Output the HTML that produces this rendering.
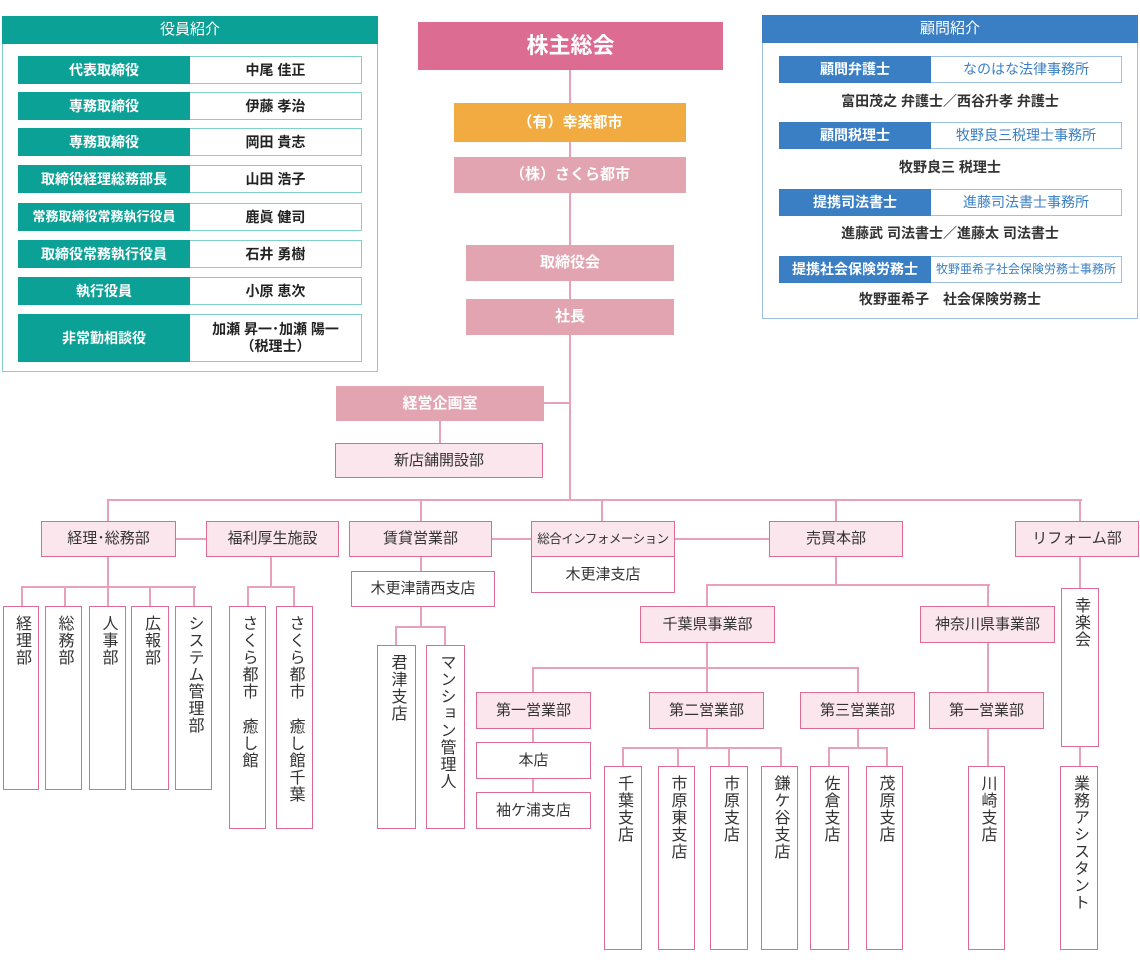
<!DOCTYPE html>
<html><head><meta charset="utf-8"><style>
body{margin:0;width:1140px;height:966px;position:relative;background:#fff;font-family:"Liberation Sans","Noto Sans CJK JP",sans-serif;color:#333;overflow:hidden}
div{position:absolute;box-sizing:border-box}
.b{display:flex;align-items:center;justify-content:center;text-align:center;font-size:15px;line-height:1.2;white-space:nowrap}
.p{border:1.5px solid #dc6c92;background:#fbe6ee}
.w{border:1.5px solid #dc6c92;background:#fff}
.s{background:#e1a4b0;color:#fff;font-size:15px;font-weight:bold}
.v{border:1.5px solid #dc6c92;background:#fff;writing-mode:vertical-rl;text-orientation:upright;font-size:16px;line-height:1;display:flex;justify-content:flex-start;align-items:center;padding-top:8px;letter-spacing:1px}
.h{height:2px;background:#e8a0bb}
.vl{width:2px;background:#e8a0bb}
.tl{background:#0ca196;color:#fff;font-weight:bold;font-size:14px}
.tv{border:1.5px solid #7fd1cb;border-left:none;background:#fff;font-weight:bold;font-size:14px;color:#222}
.bl{background:#3a7fc4;color:#fff;font-weight:bold;font-size:14px}
.bv{border:1.5px solid #9cc0e6;border-left:none;background:#fff;color:#3a7fc4;font-size:14px}
.bn{font-size:14px;font-weight:bold;color:#333;left:762px;width:376px}
</style></head><body>

<div style="left:2px;top:16px;width:376px;height:356px;border:1.5px solid #7fd1cb"></div>
<div class="b tl" style="left:2px;top:16px;width:376px;height:28px;font-size:15px;font-weight:normal">役員紹介</div>
<div class="b tl" style="left:18px;top:56px;width:172px;height:28px">代表取締役</div><div class="b tv" style="left:190px;top:56px;width:172px;height:28px">中尾 佳正</div>
<div class="b tl" style="left:18px;top:92px;width:172px;height:28px">専務取締役</div><div class="b tv" style="left:190px;top:92px;width:172px;height:28px">伊藤 孝治</div>
<div class="b tl" style="left:18px;top:128px;width:172px;height:28px">専務取締役</div><div class="b tv" style="left:190px;top:128px;width:172px;height:28px">岡田 貴志</div>
<div class="b tl" style="left:18px;top:165px;width:172px;height:28px">取締役経理総務部長</div><div class="b tv" style="left:190px;top:165px;width:172px;height:28px">山田 浩子</div>
<div class="b tl" style="left:18px;top:203px;width:172px;height:28px;font-size:13px">常務取締役常務執行役員</div><div class="b tv" style="left:190px;top:203px;width:172px;height:28px">鹿眞 健司</div>
<div class="b tl" style="left:18px;top:240px;width:172px;height:28px">取締役常務執行役員</div><div class="b tv" style="left:190px;top:240px;width:172px;height:28px">石井 勇樹</div>
<div class="b tl" style="left:18px;top:277px;width:172px;height:28px">執行役員</div><div class="b tv" style="left:190px;top:277px;width:172px;height:28px">小原 恵次</div>
<div class="b tl" style="left:18px;top:314px;width:172px;height:48px">非常勤相談役</div><div class="b tv" style="left:190px;top:314px;width:172px;height:48px">加瀬 昇一･加瀬 陽一<br>（税理士）</div>

<div style="left:762px;top:15px;width:376px;height:304px;border:1.5px solid #9cc0e6"></div>
<div class="b bl" style="left:762px;top:15px;width:376px;height:28px;font-weight:normal;font-size:15px">顧問紹介</div>
<div class="b bl" style="left:779px;top:56px;width:152px;height:27px">顧問弁護士</div><div class="b bv" style="left:931px;top:56px;width:191px;height:27px">なのはな法律事務所</div>
<div class="b bn" style="top:90px;height:22px">富田茂之 弁護士／西谷升孝 弁護士</div>
<div class="b bl" style="left:779px;top:122px;width:152px;height:27px">顧問税理士</div><div class="b bv" style="left:931px;top:122px;width:191px;height:27px">牧野良三税理士事務所</div>
<div class="b bn" style="top:156px;height:22px">牧野良三 税理士</div>
<div class="b bl" style="left:779px;top:189px;width:152px;height:27px">提携司法書士</div><div class="b bv" style="left:931px;top:189px;width:191px;height:27px">進藤司法書士事務所</div>
<div class="b bn" style="top:222px;height:22px">進藤武 司法書士／進藤太 司法書士</div>
<div class="b bl" style="left:779px;top:256px;width:152px;height:27px">提携社会保険労務士</div><div class="b bv" style="left:931px;top:256px;width:191px;height:27px;font-size:12px">牧野亜希子社会保険労務士事務所</div>
<div class="b bn" style="top:288px;height:22px">牧野亜希子　社会保険労務士</div>

<div class="vl" style="left:569px;top:70px;height:431px"></div>
<div class="h" style="left:107px;top:499px;width:975px"></div>
<div class="h" style="left:544px;top:402px;width:26px"></div>
<div class="vl" style="left:439px;top:421px;height:22px"></div>

<div class="b" style="left:418px;top:22px;width:305px;height:48px;background:#dc6c92;color:#fff;font-size:22px;font-weight:bold">株主総会</div>
<div class="b" style="left:454px;top:103px;width:232px;height:39px;background:#f1ab40;color:#fff;font-weight:bold">（有）幸楽都市</div>
<div class="b s" style="left:454px;top:157px;width:232px;height:36px">（株）さくら都市</div>
<div class="b s" style="left:466px;top:245px;width:208px;height:36px">取締役会</div>
<div class="b s" style="left:466px;top:299px;width:208px;height:36px">社長</div>
<div class="b s" style="left:336px;top:386px;width:208px;height:35px">経営企画室</div>
<div class="b p" style="left:335px;top:443px;width:208px;height:35px">新店舗開設部</div>

<div class="vl" style="left:107px;top:500px;height:21px"></div>
<div class="vl" style="left:420px;top:500px;height:21px"></div>
<div class="vl" style="left:601px;top:500px;height:21px"></div>
<div class="vl" style="left:835px;top:500px;height:21px"></div>
<div class="vl" style="left:1079px;top:500px;height:21px"></div>
<div class="h" style="left:176px;top:538px;width:30px"></div>
<div class="h" style="left:492px;top:538px;width:39px"></div>
<div class="h" style="left:674px;top:538px;width:95px"></div>

<div class="b p" style="left:41px;top:521px;width:135px;height:36px">経理･総務部</div>
<div class="b p" style="left:206px;top:521px;width:133px;height:36px">福利厚生施設</div>
<div class="b p" style="left:349px;top:521px;width:143px;height:36px">賃貸営業部</div>
<div class="b p" style="left:531px;top:521px;width:144px;height:37px;font-size:12.5px;letter-spacing:-0.5px">総合インフォメーション</div>
<div class="b w" style="left:531px;top:556px;width:144px;height:37px">木更津支店</div>
<div class="b p" style="left:769px;top:521px;width:134px;height:36px">売買本部</div>
<div class="b p" style="left:1015px;top:521px;width:124px;height:36px">リフォーム部</div>

<div class="vl" style="left:107px;top:557px;height:30px"></div>
<div class="h" style="left:21px;top:586px;width:175px"></div>
<div class="vl" style="left:21px;top:587px;height:19px"></div>
<div class="vl" style="left:64px;top:587px;height:19px"></div>
<div class="vl" style="left:107px;top:587px;height:19px"></div>
<div class="vl" style="left:149px;top:587px;height:19px"></div>
<div class="vl" style="left:193px;top:587px;height:19px"></div>
<div class="v" style="left:3px;top:606px;width:36px;height:184px">経理部</div>
<div class="v" style="left:45px;top:606px;width:37px;height:184px">総務部</div>
<div class="v" style="left:89px;top:606px;width:37px;height:184px">人事部</div>
<div class="v" style="left:131px;top:606px;width:38px;height:184px">広報部</div>
<div class="v" style="left:175px;top:606px;width:37px;height:184px">システム管理部</div>

<div class="vl" style="left:270px;top:557px;height:30px"></div>
<div class="h" style="left:247px;top:586px;width:48px"></div>
<div class="vl" style="left:247px;top:587px;height:19px"></div>
<div class="vl" style="left:293px;top:587px;height:19px"></div>
<div class="v" style="left:229px;top:606px;width:37px;height:223px">さくら都市 癒し館</div>
<div class="v" style="left:276px;top:606px;width:37px;height:223px">さくら都市 癒し館千葉</div>

<div class="vl" style="left:420px;top:557px;height:14px"></div>
<div class="b w" style="left:351px;top:571px;width:144px;height:36px">木更津請西支店</div>
<div class="vl" style="left:420px;top:607px;height:20px"></div>
<div class="h" style="left:395px;top:626px;width:51px"></div>
<div class="vl" style="left:395px;top:627px;height:19px"></div>
<div class="vl" style="left:444px;top:627px;height:19px"></div>
<div class="v" style="left:377px;top:645px;width:39px;height:184px">君津支店</div>
<div class="v" style="left:426px;top:645px;width:39px;height:184px">マンション管理人</div>

<div class="vl" style="left:835px;top:557px;height:28px"></div>
<div class="h" style="left:706px;top:584px;width:284px"></div>
<div class="vl" style="left:706px;top:585px;height:21px"></div>
<div class="vl" style="left:987px;top:585px;height:21px"></div>
<div class="b p" style="left:640px;top:606px;width:135px;height:37px">千葉県事業部</div>
<div class="b p" style="left:920px;top:606px;width:135px;height:37px">神奈川県事業部</div>

<div class="vl" style="left:706px;top:643px;height:25px"></div>
<div class="h" style="left:532px;top:667px;width:327px"></div>
<div class="vl" style="left:532px;top:668px;height:24px"></div>
<div class="vl" style="left:706px;top:668px;height:24px"></div>
<div class="vl" style="left:857px;top:668px;height:24px"></div>
<div class="vl" style="left:987px;top:643px;height:49px"></div>

<div class="b p" style="left:476px;top:692px;width:115px;height:37px">第一営業部</div>
<div class="b p" style="left:649px;top:692px;width:115px;height:37px">第二営業部</div>
<div class="b p" style="left:800px;top:692px;width:115px;height:37px">第三営業部</div>
<div class="b p" style="left:929px;top:692px;width:115px;height:37px">第一営業部</div>

<div class="vl" style="left:532px;top:729px;height:13px"></div>
<div class="b w" style="left:476px;top:742px;width:115px;height:37px">本店</div>
<div class="vl" style="left:532px;top:779px;height:13px"></div>
<div class="b w" style="left:476px;top:792px;width:115px;height:37px">袖ケ浦支店</div>

<div class="vl" style="left:706px;top:729px;height:19px"></div>
<div class="h" style="left:622px;top:747px;width:160px"></div>
<div class="vl" style="left:622px;top:748px;height:18px"></div>
<div class="vl" style="left:677px;top:748px;height:18px"></div>
<div class="vl" style="left:728px;top:748px;height:18px"></div>
<div class="vl" style="left:780px;top:748px;height:18px"></div>
<div class="v" style="left:604px;top:766px;width:38px;height:184px">千葉支店</div>
<div class="v" style="left:658px;top:766px;width:37px;height:184px">市原東支店</div>
<div class="v" style="left:710px;top:766px;width:38px;height:184px">市原支店</div>
<div class="v" style="left:761px;top:766px;width:37px;height:184px">鎌ケ谷支店</div>

<div class="vl" style="left:857px;top:729px;height:19px"></div>
<div class="h" style="left:828px;top:747px;width:60px"></div>
<div class="vl" style="left:828px;top:748px;height:18px"></div>
<div class="vl" style="left:886px;top:748px;height:18px"></div>
<div class="v" style="left:810px;top:766px;width:39px;height:184px">佐倉支店</div>
<div class="v" style="left:866px;top:766px;width:37px;height:184px">茂原支店</div>

<div class="vl" style="left:987px;top:729px;height:37px"></div>
<div class="v" style="left:968px;top:766px;width:37px;height:184px">川崎支店</div>

<div class="vl" style="left:1079px;top:557px;height:31px"></div>
<div class="v" style="left:1061px;top:588px;width:38px;height:159px">幸楽会</div>
<div class="vl" style="left:1079px;top:747px;height:19px"></div>
<div class="v" style="left:1060px;top:766px;width:38px;height:184px">業務アシスタント</div>

</body></html>
